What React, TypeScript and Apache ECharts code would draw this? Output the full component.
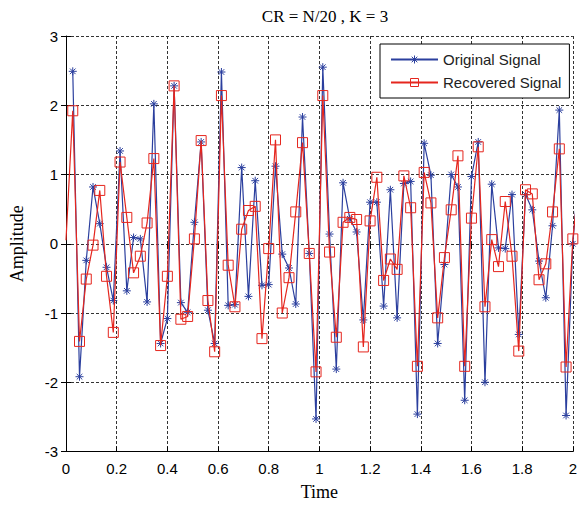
import React, { useEffect, useRef } from "react";
import * as echarts from "echarts";

const TITLE = "CR = N/20 , K = 3";
const X_NAME = "Time";
const Y_NAME = "Amplitude";
const SERIES_NAMES = ["Original Signal", "Recovered Signal"];
const TIME_STEP = 2 / 75;

// index 0 of the original signal is not drawn in the reference
const original: (number | null)[] = [
  null, 2.49, -1.92, -0.24, 0.82, 0.29, -0.34, -0.82, 1.34, -0.68,
  0.09, 0.07, -0.84, 2.02, -1.44, -1.08, 2.28, -0.85, -0.99, 0.31,
  1.47, -0.96, -1.44, 2.48, -0.89, -0.88, 1.1, -0.76, 0.91, -0.6,
  -0.59, 1.12, -0.15, -0.35, -0.87, 1.83, -0.14, -2.53, 2.55, 0.14,
  -1.81, 0.88, 0.36, 0.17, -1.1, 0.6, 0.6, -0.9, 0.78, -1.07,
  0.87, 0.9, -2.46, 1.45, 0.99, -1.44, -0.3, 1.0, 0.82, -2.26,
  0.97, 1.47, -2.0, 0.86, -0.06, -0.07, 0.71, -1.31, 0.71, 0.49,
  -0.25, -0.78, 0.26, 1.93, -2.48, 0.0, 1.2,
];

const recovered: (number | null)[] = [
  0.05, 1.92, -1.41, -0.51, -0.02, 0.77, -0.47, -1.28, 1.18, 0.38,
  -0.42, -0.18, 0.3, 1.23, -1.47, -0.47, 2.28, -1.09, -1.05, 0.07,
  1.49, -0.82, -1.56, 2.14, -0.31, -0.91, 0.21, 0.48, 0.54, -1.37,
  -0.07, 1.5, -1.0, -0.49, 0.46, 1.46, -0.14, -1.85, 2.14, -0.12,
  -1.35, 0.31, 0.38, 0.35, -1.49, 0.33, 0.96, -0.53, -0.22, -0.37,
  0.98, 0.52, -1.77, 1.03, 0.59, -1.07, -0.2, 0.49, 1.27, -1.77,
  0.37, 1.4, -0.91, 0.06, -0.33, 0.61, -0.18, -1.55, 0.78, 0.72,
  -0.52, -0.29, 0.46, 1.37, -1.78, 0.07, 1.0,
];

const BLUE = "#2b3f9e";
const RED = "#e5261e";
const STAR = "path://M5,0L5,10M0,5L10,5M1.5,1.5L8.5,8.5M8.5,1.5L1.5,8.5";
const SQUARE = "path://M0,0L10,0L10,10L0,10Z";

const toPairs = (vals: (number | null)[]) =>
  vals.map((v, k) =>
    k === 0 ? { value: [0, v === null ? "-" : v], symbol: "none" } : [k * TIME_STEP, v === null ? "-" : v]
  );

export default function App() {
  const ref = useRef<HTMLDivElement>(null);
  useEffect(() => {
    if (!ref.current) return;
    const chart = echarts.init(ref.current, null, { renderer: "svg" });
    const gridLine = { show: true, lineStyle: { color: "#333", width: 1, type: [3, 2] as any } };
    const tickLabel = { color: "#000", fontFamily: "Liberation Sans", fontSize: 15 };
    chart.setOption({
      animation: false,
      backgroundColor: "#fff",
      title: {
        text: TITLE,
        left: 320,
        textAlign: "center",
        top: 3,
        textStyle: { fontFamily: "Liberation Serif", fontSize: 17, fontWeight: "normal", color: "#000" },
      },
      legend: {
        orient: "vertical",
        left: 380,
        top: 44,
        itemWidth: 47,
        itemHeight: 10,
        itemGap: 8,
        padding: [8, 8, 8, 10],
        borderColor: "#000",
        borderWidth: 1,
        backgroundColor: "#fff",
        textStyle: { fontFamily: "Liberation Sans", fontSize: 15, color: "#222" },
        data: [
          { name: SERIES_NAMES[0], itemStyle: { color: "none", borderColor: BLUE, borderWidth: 1 } },
          { name: SERIES_NAMES[1], itemStyle: { color: "none", borderColor: RED, borderWidth: 1 } },
        ],
      },
      grid: { left: 66, top: 36, right: 7, bottom: 56.5 },
      xAxis: [
        {
          type: "value",
          min: 0,
          max: 2,
          interval: 0.2,
          name: X_NAME,
          nameLocation: "middle",
          nameGap: 31,
          nameTextStyle: { fontFamily: "Liberation Serif", fontSize: 18, color: "#000" },
          axisLine: { show: true, onZero: false, lineStyle: { color: "#000", width: 1 } },
          axisTick: { show: true, inside: true, length: 5, lineStyle: { color: "#000" } },
          axisLabel: { ...tickLabel, margin: 9, formatter: (v: number) => String(Math.round(v * 10) / 10) },
          splitLine: gridLine,
        },
        {
          type: "value",
          position: "top",
          min: 0,
          max: 2,
          interval: 0.2,
          axisLine: { show: false },
          axisTick: { show: true, inside: true, length: 5, lineStyle: { color: "#000" } },
          axisLabel: { show: false },
          splitLine: { show: false },
        },
      ],
      yAxis: [
        {
          type: "value",
          min: -3,
          max: 3,
          interval: 1,
          name: Y_NAME,
          nameLocation: "middle",
          nameGap: 40,
          nameTextStyle: { fontFamily: "Liberation Serif", fontSize: 18, color: "#000" },
          axisLine: { show: true, onZero: false, lineStyle: { color: "#000", width: 1 } },
          axisTick: { show: true, inside: true, length: 5, lineStyle: { color: "#000" } },
          axisLabel: { ...tickLabel, margin: 8 },
          splitLine: gridLine,
        },
        {
          type: "value",
          position: "right",
          min: -3,
          max: 3,
          interval: 1,
          axisLine: { show: false },
          axisTick: { show: true, inside: true, length: 5, lineStyle: { color: "#000" } },
          axisLabel: { show: false },
          splitLine: { show: false },
        },
      ],
      series: [
        {
          name: SERIES_NAMES[0],
          type: "line",
          data: toPairs(original),
          symbol: STAR,
          symbolSize: 8,
          showAllSymbol: true,
          lineStyle: { color: BLUE, width: 1.2 },
          itemStyle: { color: "none", borderColor: BLUE, borderWidth: 1 },
          clip: true,
          z: 3,
        },
        {
          name: SERIES_NAMES[1],
          type: "line",
          data: toPairs(recovered),
          symbol: SQUARE,
          symbolSize: 10,
          showAllSymbol: true,
          lineStyle: { color: RED, width: 1.2 },
          itemStyle: { color: "none", borderColor: RED, borderWidth: 1 },
          clip: true,
          z: 4,
        },
      ],
    });
    return () => chart.dispose();
  }, []);
  return <div ref={ref} style={{ width: 580, height: 508, position: "absolute", left: 0, top: 0 }} />;
}
